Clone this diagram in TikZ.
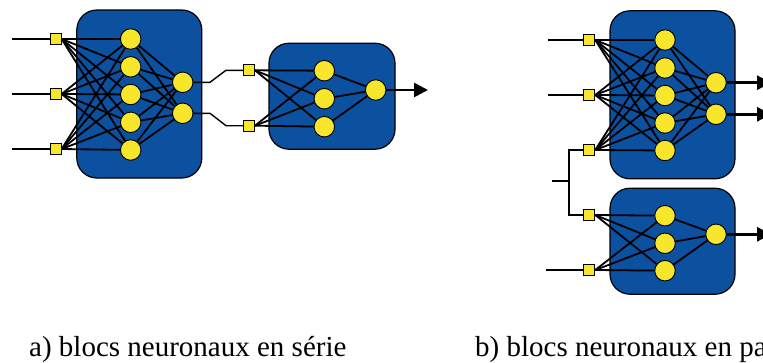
\documentclass[tikz,border=0pt]{standalone}
\usepackage{fontspec}
\setmainfont{Liberation Serif}
\usetikzlibrary{arrows.meta}
\definecolor{nblue}{RGB}{12,80,160}
\definecolor{nyel}{RGB}{247,230,44}
\pgfdeclarelayer{blklayer}
\pgfdeclarelayer{connlayer}
\pgfsetlayers{blklayer,connlayer,main}
\tikzset{
  blk/.style={draw=black, line width=1.2pt, fill=nblue, rounded corners=20pt, inner sep=0pt},
  sq/.style={draw=black, line width=0.9pt, fill=nyel, rectangle, minimum size=11pt, inner sep=0pt},
  neu/.style={draw=black, line width=0.9pt, fill=nyel, circle, minimum size=20.5pt, inner sep=0pt},
  conn/.style={line width=1.8pt, black},
  inl/.style={line width=1.4pt, black},
  outarr/.style={line width=2.8pt, black, -{Triangle[length=14pt,width=14pt]}},
  captext/.style={anchor=base west, inner sep=0pt, font=\fontsize{29}{34}\selectfont}
}
\begin{document}
\begin{tikzpicture}[x=1pt,y=-1pt]
\useasboundingbox (0,0) rectangle (763,362);
\clip (0,0) rectangle (763,362);
% ---------- blocks ----------
\begin{pgfonlayer}{blklayer}
\node[blk, minimum width=125pt, minimum height=168pt] (BA) at (139.3,94) {};
\node[blk, minimum width=126pt, minimum height=106pt] (BB) at (332,96.2) {};
\node[blk, minimum width=125pt, minimum height=168pt] (BC) at (672.5,94.8) {};
\node[blk, minimum width=125pt, minimum height=106pt] (BD) at (672.5,241.2) {};
\end{pgfonlayer}
% ---------- left network (series, first block) ----------
\foreach \i/\y in {1/39,2/94,3/149} {
  \node[sq] (a\i) at (55.7,\y) {};
  \coordinate (ai\i) at (12,\y);
}
\foreach \i/\y in {1/39,2/66.8,3/94.5,4/122.3,5/150} \node[neu] (ah\i) at (130.7,\y) {};
\node[neu] (ao1) at (182.7,82.3) {};
\node[neu] (ao2) at (182.7,113.3) {};
% ---------- right network (series, second block) ----------
\node[sq] (b1) at (249,70.3) {};
\node[sq] (b2) at (249,125.7) {};
\foreach \i/\y in {1/70.7,2/98.7,3/126.7} \node[neu] (bh\i) at (324.3,\y) {};
\node[neu] (bo) at (375.7,90) {};
\coordinate (bend) at (428,90);
\coordinate (l1a) at (210,82.3);
\coordinate (l1b) at (226,70.3);
\coordinate (l2a) at (210,113.3);
\coordinate (l2b) at (226,125.7);
% ---------- parallel, top block ----------
\foreach \i/\y in {1/40,2/95,3/150} \node[sq] (c\i) at (589.3,\y) {};
\coordinate (ci1) at (548,40);
\coordinate (ci2) at (548,95);
\foreach \i/\y in {1/40,2/68,3/95.5,4/123,5/150.5} \node[neu] (ch\i) at (665,\y) {};
\node[neu] (co1) at (716,82.7) {};
\node[neu] (co2) at (716,114.3) {};
\coordinate (ce1) at (771,82.7);
\coordinate (ce2) at (771,114.3);
% ---------- parallel, bottom block ----------
\node[sq] (d1) at (589.3,215) {};
\node[sq] (d2) at (589.3,270) {};
\foreach \i/\y in {1/215.7,2/243.3,3/270.7} \node[neu] (dh\i) at (665,\y) {};
\node[neu] (do) at (716,234.3) {};
\coordinate (de) at (771,234.3);
\coordinate (di2) at (546,270);
\coordinate (jt) at (569,150);
\coordinate (jb) at (569,215);
\coordinate (jm) at (569,181);
\coordinate (ji) at (552,181);
% ---------- connections ----------
\begin{pgfonlayer}{connlayer}
\foreach \i in {1,2,3} {
  \draw[inl] (ai\i) -- (a\i.west);
  \foreach \j in {1,...,5} \draw[conn] (a\i.east) -- (ah\j);
}
\foreach \j in {1,...,5} \foreach \k in {1,2} \draw[conn] (ah\j) -- (ao\k);
\draw[inl] (ao1) -- (l1a) -- (l1b) -- (b1.west);
\draw[inl] (ao2) -- (l2a) -- (l2b) -- (b2.west);
\foreach \i in {1,2} \foreach \j in {1,2,3} \draw[conn] (b\i.east) -- (bh\j);
\foreach \j in {1,2,3} \draw[conn] (bh\j) -- (bo);
\draw[inl] (ci1) -- (c1.west);
\draw[inl] (ci2) -- (c2.west);
\draw[inl] (c3.west) -- (jt) -- (jb) -- (d1.west);
\draw[inl] (ji) -- (jm);
\draw[inl] (di2) -- (d2.west);
\foreach \i in {1,2,3} \foreach \j in {1,...,5} \draw[conn] (c\i.east) -- (ch\j);
\foreach \j in {1,...,5} \foreach \k in {1,2} \draw[conn] (ch\j) -- (co\k);
\foreach \i in {1,2} \foreach \j in {1,2,3} \draw[conn] (d\i.east) -- (dh\j);
\foreach \j in {1,2,3} \draw[conn] (dh\j) -- (do);
\end{pgfonlayer}
\draw[outarr] (bo) -- (bend);
\draw[outarr] (co1) -- (ce1);
\draw[outarr] (co2) -- (ce2);
\draw[outarr] (do) -- (de);
% ---------- captions ----------
\node[captext] (capa) at (29,356.5) {a) blocs neuronaux en série};
\node[captext] (capb) at (475,356.5) {b) blocs neuronaux en parallèle};
\end{tikzpicture}
\end{document}
